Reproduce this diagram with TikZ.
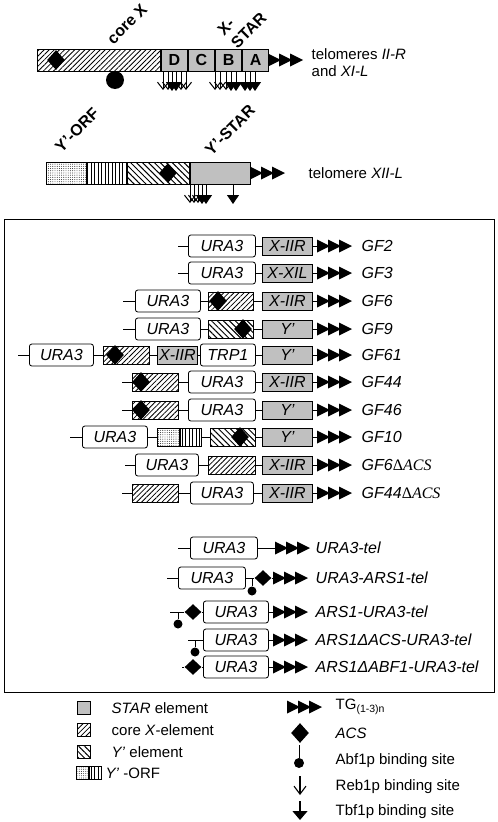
\documentclass[tikz,border=0pt]{standalone}
\usepackage{fontspec}
\setmainfont{Liberation Sans}
\newfontfamily\tnr{Liberation Serif}
\usetikzlibrary{arrows.meta, patterns.meta, shapes.geometric}
\definecolor{starfill}{HTML}{C0C0C0}
\newcommand\gfsize{\fontsize{16}{19}\selectfont}
\newcommand\lgsize{\fontsize{15}{17}\selectfont}
\newcommand\dACS{{\tnr\upshape Δ\itshape ACS}}
\tikzset{
  elem/.style={draw, inner sep=0pt, minimum height=18, anchor=west, font=\gfsize\itshape},
  ura/.style={elem, fill=white, rounded corners=2.5pt, minimum height=22, minimum width=#1},
  starbox/.style={elem, fill=starfill, minimum width=#1},
  corex/.style={elem, minimum width=#1, pattern={Lines[angle=45,distance=3.6pt,line width=0.8pt]}},
  yel/.style={elem, minimum width=#1, pattern={Lines[angle=-45,distance=4.2pt,line width=1pt]}},
  orfdot/.style={elem, minimum width=#1, pattern={Dots[distance=2.2pt,radius=0.45pt]}},
  orfbar/.style={elem, minimum width=#1, pattern={Lines[angle=90,distance=3.5pt,line width=0.9pt]}},
  acs/.style={diamond, fill, inner sep=0pt, minimum width=18, minimum height=20},
  abf/.style={circle, fill, inner sep=0pt, minimum size=#1},
  reb/.style={line width=1pt, -{Straight Barb[length=7pt,width=11pt]}},
  tbf/.style={line width=1pt, -{Triangle[length=9pt,width=12pt]}},
  gf/.style={anchor=west, font=\gfsize\itshape},
  lg/.style={anchor=west, font=\lgsize},
  tg/.pic={\foreach \k in {0,11,22} \fill (\k,-6.5) -- ++(13,6.5) -- ++(-13,6.5) -- cycle;}
}
\begin{document}
\begin{tikzpicture}[x=1pt, y=-1pt, line width=0.8pt]
\useasboundingbox (0,0) rectangle (498,822);
% telomeres II-R and XI-L
\node[corex=123, minimum height=22] (cx) at (37,60) {};
\node[acs] (a0) at (56,60) {};
\node[abf=18] (b0) at (115,80) {};
\node[starbox=26.3, minimum height=22, font=\gfsize\bfseries] (sd) at (cx.east) {D};
\node[starbox=26.3, minimum height=22, font=\gfsize\bfseries] (sc) at (sd.east) {C};
\node[starbox=26.3, minimum height=22, font=\gfsize\bfseries] (sb) at (sc.east) {B};
\node[starbox=26.3, minimum height=22, font=\gfsize\bfseries] (sa) at (sb.east) {A};
\coordinate (t0) at (268,60);
\draw (sa) -- (t0);
\pic at (t0) {tg};
\foreach \x in {163,168,181,186,215,220,226} \draw[reb] (\x,71) -- (\x,90);
\foreach \x in {172,176,231,236,245,250,255} \draw[tbf] (\x,71) -- (\x,91);
\node[rotate=45, font=\gfsize\bfseries] (lcx) at (127,24) {core X};
\node[rotate=45, font=\gfsize\bfseries, align=left] (lxs) at (242,24) {X-\\STAR};
\node[lg, align=left] (l0) at (308,63) {telomeres \textit{II-R}\\and \textit{XI-L}};
% telomere XII-L
\node[orfdot=40, minimum height=22] (od) at (46,173) {};
\node[orfbar=39, minimum height=22] (ob) at (od.east) {};
\node[yel=62, minimum height=22] (ye) at (ob.east) {};
\node[acs] (a00) at (168,173) {};
\node[starbox=60, minimum height=22] (ys) at (ye.east) {};
\coordinate (t00) at (250,173);
\draw (ys) -- (t00);
\pic at (t00) {tg};
\foreach \x in {190,194,198} \draw[reb] (\x,184) -- (\x,203);
\foreach \x in {202,206,233} \draw[tbf] (\x,184) -- (\x,204);
\node[rotate=45, font=\gfsize\bfseries] (lyo) at (77,130) {Y'-ORF};
\node[rotate=45, font=\gfsize\bfseries] (lys) at (230,130) {Y'-STAR};
\node[lg] (l00) at (305,173) {telomere \textit{XII-L}};
% constructs
\draw (4,219) rectangle (494,692);
% GF2
\coordinate (s1) at (178,246);
\node[ura=67] (u1) at (188,246) {URA3};
\node[starbox=50] (x1) at (262,246) {X-IIR};
\coordinate (t1) at (317,246);
\draw (s1) -- (u1) (u1) -- (x1) (x1) -- (t1);
\pic at (t1) {tg};
\node[gf] (g1) at (358,246) {GF2};
% GF3
\coordinate (s2) at (178,273);
\node[ura=67] (u2) at (188,273) {URA3};
\node[starbox=50] (x2) at (262,273) {X-XIL};
\coordinate (t2) at (317,273);
\draw (s2) -- (u2) (u2) -- (x2) (x2) -- (t2);
\pic at (t2) {tg};
\node[gf] (g2) at (358,273) {GF3};
% GF6
\coordinate (s3) at (123,301);
\node[ura=65] (u3) at (135,301) {URA3};
\node[corex=45] (c3) at (208,301) {};
\node[acs] (a3) at (218,301) {};
\node[starbox=50] (x3) at (262,301) {X-IIR};
\coordinate (t3) at (317,301);
\draw (s3) -- (u3) (u3) -- (c3) (c3) -- (x3) (x3) -- (t3);
\pic at (t3) {tg};
\node[gf] (g3) at (358,301) {GF6};
% GF9
\coordinate (s4) at (123,329);
\node[ura=65] (u4) at (135,329) {URA3};
\node[yel=45] (c4) at (208,329) {};
\node[acs] (a4) at (243,329) {};
\node[starbox=50] (x4) at (262,329) {Y'};
\coordinate (t4) at (317,329);
\draw (s4) -- (u4) (u4) -- (c4) (c4) -- (x4) (x4) -- (t4);
\pic at (t4) {tg};
\node[gf] (g4) at (358,329) {GF9};
% GF61
\coordinate (s5) at (18,355);
\node[ura=64] (u5) at (29,355) {URA3};
\node[corex=46] (c5) at (103,355) {};
\node[acs] (a5) at (115,355) {};
\node[starbox=40] (x5) at (157,355) {X-IIR};
\node[ura=55] (r5) at (200,355) {TRP1};
\node[starbox=50] (y5) at (262,355) {Y'};
\coordinate (t5) at (317,355);
\draw (s5) -- (u5) (u5) -- (c5) (c5) -- (x5) (x5) -- (r5) (r5) -- (y5) (y5) -- (t5);
\pic at (t5) {tg};
\node[gf] (g5) at (358,355) {GF61};
% GF44
\coordinate (s6) at (122,382);
\node[corex=46] (c6) at (132,382) {};
\node[acs] (a6) at (141,382) {};
\node[ura=67] (u6) at (188,382) {URA3};
\node[starbox=50] (x6) at (262,382) {X-IIR};
\coordinate (t6) at (317,382);
\draw (s6) -- (c6) (c6) -- (u6) (u6) -- (x6) (x6) -- (t6);
\pic at (t6) {tg};
\node[gf] (g6) at (358,382) {GF44};
% GF46
\coordinate (s7) at (122,410);
\node[corex=46] (c7) at (132,410) {};
\node[acs] (a7) at (141,410) {};
\node[ura=67] (u7) at (188,410) {URA3};
\node[starbox=50] (x7) at (262,410) {Y'};
\coordinate (t7) at (317,410);
\draw (s7) -- (c7) (c7) -- (u7) (u7) -- (x7) (x7) -- (t7);
\pic at (t7) {tg};
\node[gf] (g7) at (358,410) {GF46};
% GF10
\coordinate (s8) at (70,437);
\node[ura=65] (u8) at (82,437) {URA3};
\node[orfdot=22] (o8) at (157,437) {};
\node[orfbar=21] (b8) at (o8.east) {};
\node[yel=45] (c8) at (210,437) {};
\node[acs] (a8) at (240,437) {};
\node[starbox=50] (x8) at (262,437) {Y'};
\coordinate (t8) at (317,437);
\draw (s8) -- (u8) (u8) -- (o8) (b8) -- (c8) (c8) -- (x8) (x8) -- (t8);
\pic at (t8) {tg};
\node[gf] (g8) at (358,437) {GF10};
% GF6 delta ACS
\coordinate (s9) at (125,465);
\node[ura=63] (u9) at (135,465) {URA3};
\node[corex=47] (c9) at (208,465) {};
\node[starbox=50] (x9) at (262,465) {X-IIR};
\coordinate (t9) at (317,465);
\draw (s9) -- (u9) (u9) -- (c9) (c9) -- (x9) (x9) -- (t9);
\pic at (t9) {tg};
\node[gf] (g9) at (358,465) {GF6\dACS};
% GF44 delta ACS
\coordinate (s10) at (122,493);
\node[corex=46] (c10) at (132,493) {};
\node[ura=63] (u10) at (190,493) {URA3};
\node[starbox=50] (x10) at (262,493) {X-IIR};
\coordinate (t10) at (317,493);
\draw (s10) -- (c10) (c10) -- (u10) (u10) -- (x10) (x10) -- (t10);
\pic at (t10) {tg};
\node[gf] (g10) at (358,493) {GF44\dACS};
% URA3-tel
\coordinate (s11) at (178,548);
\node[ura=67] (u11) at (190,548) {URA3};
\coordinate (t11) at (275,548);
\draw (s11) -- (u11) (u11) -- (t11);
\pic at (t11) {tg};
\node[gf] (g11) at (312,548) {URA3-tel};
% URA3-ARS1-tel
\coordinate (s12) at (167,578);
\node[ura=67] (u12) at (178,578) {URA3};
\node[acs, minimum width=17, minimum height=16] (a12) at (263,578) {};
\node[abf=9] (b12) at (252,591) {};
\coordinate (t12) at (273,578);
\draw (s12) -- (u12) (u12) -- (a12) (a12) -- (t12);
\draw (b12) -- (252,578);
\pic at (t12) {tg};
\node[gf] (g12) at (312,578) {URA3-ARS1-tel};
% ARS1-URA3-tel
\coordinate (s13) at (170,612);
\node[acs, minimum width=17, minimum height=16] (a13) at (193,612) {};
\node[abf=9] (b13) at (178,624) {};
\node[ura=65] (u13) at (203,612) {URA3};
\coordinate (t13) at (273,612);
\draw (s13) -- (a13) (a13) -- (u13) (u13) -- (t13);
\draw (b13) -- (178,612);
\pic at (t13) {tg};
\node[gf] (g13) at (312,612) {ARS1-URA3-tel};
% ARS1 delta ACS-URA3-tel
\coordinate (s14) at (188,640);
\node[abf=9] (b14) at (195,652) {};
\node[ura=65] (u14) at (203,640) {URA3};
\coordinate (t14) at (273,640);
\draw (s14) -- (u14) (u14) -- (t14);
\draw (b14) -- (195,640);
\pic at (t14) {tg};
\node[gf] (g14) at (312,640) {ARS1ΔACS-URA3-tel};
% ARS1 delta ABF1-URA3-tel
\coordinate (s15) at (182,667);
\node[acs, minimum width=17, minimum height=16] (a15) at (193,667) {};
\node[ura=65] (u15) at (203,667) {URA3};
\coordinate (t15) at (273,667);
\draw (s15) -- (a15) (a15) -- (u15) (u15) -- (t15);
\pic at (t15) {tg};
\node[gf] (g15) at (312,667) {ARS1ΔABF1-URA3-tel};
% legend
\node[starbox=13, minimum height=13] (k1) at (77,708) {};
\node[corex=13, minimum height=13] (k2) at (77,730) {};
\node[yel=13, minimum height=13] (k3) at (77,752) {};
\node[orfdot=12, minimum height=13] (k4) at (76,773) {};
\node[orfbar=12, minimum height=13] (k5) at (k4.east) {};
\node[lg] (n1) at (108,708) {\textit{STAR} element};
\node[lg] (n2) at (108,730) {core \textit{X}-element};
\node[lg] (n3) at (108,752) {\textit{Y'} element};
\node[lg] (n4) at (102,773) {\textit{Y'} -ORF};
\coordinate (k6) at (287,707);
\pic at (k6) {tg};
\node[acs] (k7) at (300,733) {};
\node[abf=10] (k8) at (299,763) {};
\draw (k8) -- (299,745);
\coordinate (k9) at (300,776);
\coordinate (k10) at (300,801);
\draw[line width=1.1pt, -{Straight Barb[length=8pt,width=12pt]}] (k9) -- ++(0,19);
\draw[line width=1.1pt, -{Triangle[length=9pt,width=15pt]}] (k10) -- ++(0,19);
\node[lg] (m1) at (332,707) {TG\textsubscript{(1-3)n}};
\node[lg] (m2) at (332,733) {\textit{ACS}};
\node[lg] (m3) at (332,761) {Abf1p binding site};
\node[lg] (m4) at (332,787) {Reb1p binding site};
\node[lg] (m5) at (332,812) {Tbf1p binding site};
\end{tikzpicture}
\end{document}
